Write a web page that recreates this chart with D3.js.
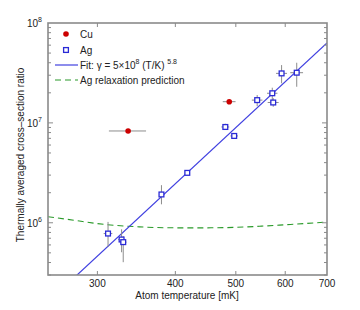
<!DOCTYPE html>
<html><head><meta charset="utf-8">
<script src="https://cdn.jsdelivr.net/npm/d3@7"></script>
<style>body{margin:0;background:#fff}svg{display:block}text{font-family:"Liberation Sans",Arial,sans-serif;fill:#222}</style>
</head><body><svg id="c" width="360" height="310"></svg>
<script>
const xTicks = [300, 400, 500, 600, 700];
const yTickExps = [6, 7, 8];
const agT = [312, 328, 330, 380, 418, 481, 497, 541, 572, 574, 592, 626];
const agG = [7.8e5, 6.8e5, 6.4e5, 1.92e6, 3.16e6, 9.1e6, 7.4e6, 1.69e7, 1.98e7, 1.60e7, 3.13e7, 3.18e7];
const agTerr = [5, 4, 4, 3, 2, 7, 7, 10.6, 11, 11.6, 12, 14.8];
const agGlo = [5.74e5, 5.07e5, 4.03e5, 1.53e6, 3.05e6, 8.53e6, 7.05e6, 1.47e7, 1.69e7, 1.45e7, 2.49e7, 2.30e7];
const agGhi = [1.02e6, 8.6e5, 7.35e5, 2.38e6, 3.29e6, 9.8e6, 7.73e6, 1.90e7, 2.25e7, 1.77e7, 3.79e7, 4.0e7];
const cuT = [336, 488];
const cuG = [8.3e6, 1.63e7];
const cuTerr = [23, 11.5];
const relaxT = [250, 275, 300, 350, 400, 450, 500, 550, 600, 650, 700];
const relaxG = [1.15e6, 1.06e6, 9.8e5, 9.1e5, 8.9e5, 8.9e5, 9.0e5, 9.25e5, 9.55e5, 9.85e5, 1.02e6];
const fitA = 5e8, fitN = 5.8;
const fitT = [250, 700];

const L = 48, R = 327, T = 23, B = 275;
const svg = d3.select("#c");
const x = d3.scaleLog().domain([250, 700]).range([L, R]);
const y = d3.scaleLog().domain([3e5, 1e8]).range([B, T]);
const grey = "#8a8a8a";
const sq = 4.8;

svg.append("clipPath").attr("id", "clip").append("rect")
  .attr("x", L).attr("y", T).attr("width", R - L).attr("height", B - T);
const plot = svg.append("g").attr("clip-path", "url(#clip)");

// relaxation prediction
plot.append("path")
  .datum(relaxT.map((t, i) => [t, relaxG[i]]))
  .attr("fill", "none").attr("stroke", "#2a9a2a").attr("stroke-width", 1.1)
  .attr("stroke-dasharray", "6,4")
  .attr("d", d3.line().x(d => x(d[0])).y(d => y(d[1])).curve(d3.curveMonotoneX));

// fit line
plot.append("path")
  .datum(fitT.map(t => [t, fitA * Math.pow(t / 1000, fitN)]))
  .attr("fill", "none").attr("stroke", "#4040e0").attr("stroke-width", 1.2)
  .attr("d", d3.line().x(d => x(d[0])).y(d => y(d[1])));

// Ag error bars
const eb = plot.append("g").attr("stroke", "#8c8c8c").attr("stroke-width", 1);
agT.forEach((t, i) => {
  eb.append("line").attr("x1", x(t)).attr("x2", x(t)).attr("y1", y(agGlo[i])).attr("y2", y(agGhi[i]));
  eb.append("line").attr("x1", x(t - agTerr[i])).attr("x2", x(t + agTerr[i])).attr("y1", y(agG[i])).attr("y2", y(agG[i]));
});
// Cu error bars
cuT.forEach((t, i) => {
  eb.append("line").attr("x1", x(t - cuTerr[i])).attr("x2", x(t + cuTerr[i])).attr("y1", y(cuG[i])).attr("y2", y(cuG[i]));
});
// Ag squares
plot.append("g").selectAll("rect").data(agT).join("rect")
  .attr("x", (d) => x(d) - sq / 2).attr("y", (d, i) => y(agG[i]) - sq / 2)
  .attr("width", sq).attr("height", sq)
  .attr("fill", "#fff").attr("stroke", "#2a2ad6").attr("stroke-width", 1.3);
// Cu circles
plot.append("g").selectAll("circle").data(cuT).join("circle")
  .attr("cx", d => x(d)).attr("cy", (d, i) => y(cuG[i])).attr("r", 2.8)
  .attr("fill", "#cc0000");

// frame
svg.append("rect").attr("x", L).attr("y", T).attr("width", R - L).attr("height", B - T)
  .attr("fill", "none").attr("stroke", grey).attr("stroke-width", 1.6);

// ticks
const tk = svg.append("g").attr("stroke", grey).attr("stroke-width", 1);
xTicks.forEach(v => {
  if (x(v) < R - 1) {
    tk.append("line").attr("x1", x(v)).attr("x2", x(v)).attr("y1", B).attr("y2", B - 4);
    tk.append("line").attr("x1", x(v)).attr("x2", x(v)).attr("y1", T).attr("y2", T + 4);
  }
});
const minorY = [];
for (let e = 5; e <= 7; e++) for (let m = 1; m <= 9; m++) {
  const v = m * Math.pow(10, e);
  if (v >= 3e5 && v < 1e8) minorY.push([v, m === 1]);
}
minorY.forEach(([v, major]) => {
  const len = major ? 5 : 3;
  tk.append("line").attr("x1", L).attr("x2", L + len).attr("y1", y(v)).attr("y2", y(v));
  tk.append("line").attr("x1", R).attr("x2", R - len).attr("y1", y(v)).attr("y2", y(v));
});

// x tick labels
svg.append("g").selectAll("text").data(xTicks).join("text")
  .attr("x", d => x(d)).attr("y", 287).attr("text-anchor", "middle")
  .attr("font-size", 10).text(d => d);
// y tick labels
yTickExps.forEach(e => {
  const t = svg.append("text").attr("x", 42).attr("y", y(Math.pow(10, e)) + 4)
    .attr("text-anchor", "end").attr("font-size", 10);
  t.append("tspan").text("10");
  t.append("tspan").attr("dy", -5).attr("font-size", 7).text(e);
});

// axis titles
svg.append("text").attr("x", 187).attr("y", 299).attr("text-anchor", "middle")
  .attr("font-size", 10).text("Atom temperature [mK]");
svg.append("text").attr("transform", "translate(24,155) rotate(-90)")
  .attr("text-anchor", "middle").attr("font-size", 10)
  .text("Thermally averaged cross\u2013section ratio");

// legend
const lg = svg.append("g");
lg.append("circle").attr("cx", 66).attr("cy", 34).attr("r", 2.8).attr("fill", "#cc0000");
lg.append("text").attr("x", 80).attr("y", 38).attr("font-size", 10).text("Cu");
lg.append("rect").attr("x", 66 - sq / 2).attr("y", 50 - sq / 2).attr("width", sq).attr("height", sq)
  .attr("fill", "#fff").attr("stroke", "#2a2ad6").attr("stroke-width", 1.3);
lg.append("text").attr("x", 80).attr("y", 54).attr("font-size", 10).text("Ag");
lg.append("line").attr("x1", 55).attr("x2", 78).attr("y1", 65).attr("y2", 65)
  .attr("stroke", "#4040e0").attr("stroke-width", 1.2);
const ft = lg.append("text").attr("x", 80).attr("y", 69).attr("font-size", 10);
ft.append("tspan").text("Fit: \u03b3 = 5\u00d710");
ft.append("tspan").attr("dy", -5).attr("font-size", 7).text("8");
ft.append("tspan").attr("dy", 5).text(" (T/K) ");
ft.append("tspan").attr("dy", -5).attr("font-size", 7).text("5.8");
lg.append("line").attr("x1", 55).attr("x2", 78).attr("y1", 80).attr("y2", 80)
  .attr("stroke", "#2a9a2a").attr("stroke-width", 1.1).attr("stroke-dasharray", "6,4");
lg.append("text").attr("x", 80).attr("y", 84).attr("font-size", 10).text("Ag relaxation prediction");
</script></body></html>
